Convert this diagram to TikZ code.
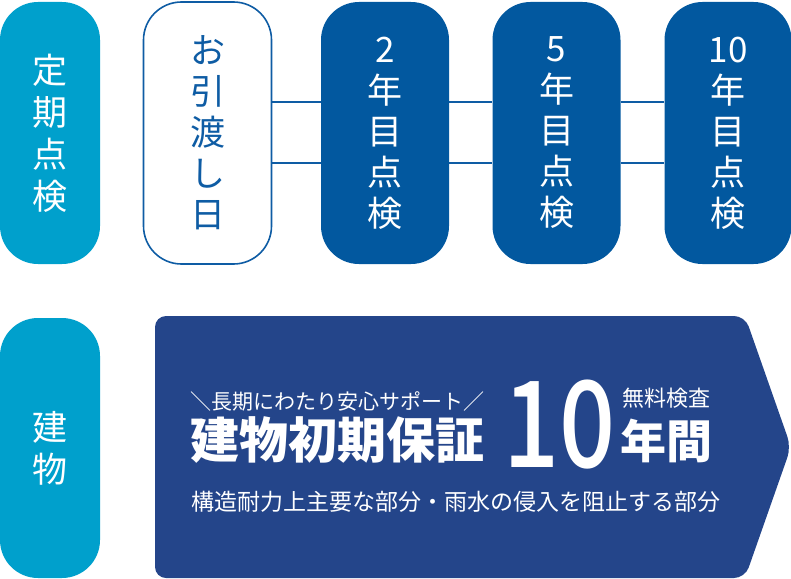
\documentclass[tikz,border=0pt]{standalone}
\usepackage{fontspec}
\newfontfamily\jp{Noto Sans CJK JP}
\newfontfamily\jpmed{Noto Sans CJK JP Medium}
\usetikzlibrary{positioning}
\definecolor{skyblue}{RGB}{0,160,204}
\definecolor{yearblue}{RGB}{2,88,159}
\definecolor{linkblue}{RGB}{14,92,164}
\definecolor{bannerblue}{RGB}{36,69,138}

\begin{document}
\begin{tikzpicture}[x=1pt, y=-1pt,
  pill/.style={rounded corners=38pt, minimum width=100pt, minimum height=262pt, inner sep=0pt,
    font=\jp\fontsize{35}{42}\selectfont, align=center, text=white},
  head/.style={pill, fill=skyblue},
  stepbox/.style={pill, minimum width=128pt, fill=yearblue, font=\jp\fontsize{35}{41}\selectfont},
  link/.style={draw=linkblue, line width=1.6pt},
  label/.style={anchor=west, inner sep=0pt, text=white}]

  \useasboundingbox (0,0) rectangle (791,578);

  % Inspection row
  \node[head] (insp) at (50,133) {定\\期\\点\\検};
  \node[stepbox, fill=white, draw=linkblue, line width=1.6pt, text=linkblue] (hand) at (207.5,133) {お\\引\\渡\\し\\日};
  \node[stepbox] (y2) at (385,133) {2\\年\\目\\点\\検};
  \node[stepbox] (y5) at (556.5,133) {5\\年\\目\\点\\検};
  \node[stepbox, minimum width=127pt] (y10) at (728,133) {10\\年\\目\\点\\検};

  % Links between steps
  \draw[link] ([yshift=31pt]hand.east) -- ([yshift=31pt]y2.west);
  \draw[link] ([yshift=-30pt]hand.east) -- ([yshift=-30pt]y2.west);
  \draw[link] ([yshift=31pt]y2.east) -- ([yshift=31pt]y5.west);
  \draw[link] ([yshift=-30pt]y2.east) -- ([yshift=-30pt]y5.west);
  \draw[link] ([yshift=31pt]y5.east) -- ([yshift=31pt]y10.west);
  \draw[link] ([yshift=-30pt]y5.east) -- ([yshift=-30pt]y10.west);

  % Building row
  \node[head, minimum height=260pt] (bldg) at (50,448) {建\\物};
  \fill[bannerblue, rounded corners=11pt] (155,316) -- (745,316) -- (791,447) -- (745,578) -- (155,578) -- cycle;

  % Banner texts
  \node[label, font=\jp\fontsize{21}{24}\selectfont] (support) at (190,401) {＼長期にわたり安心サポート／};
  \node[label, font=\jp\bfseries\fontsize{49}{54}\selectfont] (title) at (190,440) {建物初期保証};
  \node[label, font=\jpmed\fontsize{120}{120}\selectfont, xscale=0.82] (ten) at (503,425) {10};
  \node[label, font=\jp\fontsize{22}{26}\selectfont] (free) at (622,398) {無料検査};
  \node[label, font=\jp\bfseries\fontsize{46}{50}\selectfont] (years) at (620,441) {年間};
  \node[label, font=\jp\fontsize{23}{26}\selectfont] (parts) at (191,502) {構造耐力上主要な部分・雨水の侵入を阻止する部分};

\end{tikzpicture}
\end{document}
